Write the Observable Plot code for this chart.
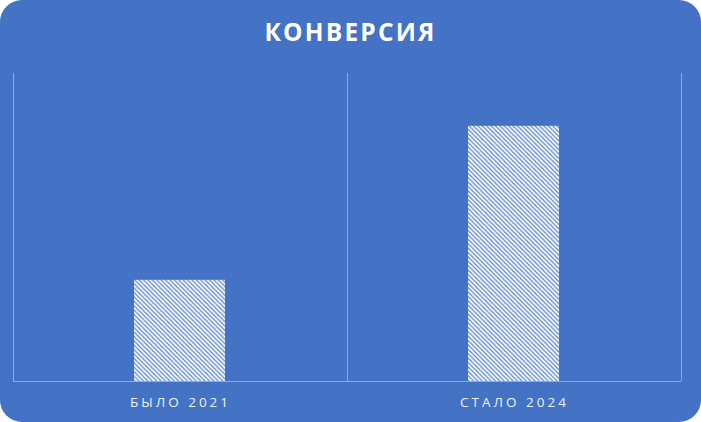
<!DOCTYPE html>
<html>
<head>
<meta charset="utf-8">
<script src="https://cdn.jsdelivr.net/npm/d3@7"></script>
<script src="https://cdn.jsdelivr.net/npm/@observablehq/plot@0.6"></script>
<style>
  html, body { margin: 0; padding: 0; background: #ffffff; }
  #card {
    position: relative;
    width: 701px; height: 422px;
    background: #4472C4;
    border-radius: 22px;
    overflow: hidden;
    font-family: "Open Sans", "Noto Sans", sans-serif;
  }
  #title {
    position: absolute; left: 0; top: 15px; width: 701px;
    text-align: center; color: #ffffff;
    font-size: 24.5px; font-weight: 700; letter-spacing: 2.2px;
  }
  #chart { position: absolute; left: 0; top: 0; }
</style>
</head>
<body>
<div id="card">
  <div id="chart"></div>
  <div id="title">КОНВЕРСИЯ</div>
</div>
<script>
const categories = ["БЫЛО 2021", "СТАЛО 2024"];
const values = [1.15, 2.9];
const yMax = 3.5;

const data = categories.map((c, i) => ({category: c, value: values[i]}));

const W = 701, H = 422;
const mL = 13, mR = 20, mT = 73, mB = 41;
const band = (W - mL - mR) / categories.length;

const plot = Plot.plot({
  width: W,
  height: H,
  marginLeft: mL,
  marginRight: mR,
  marginTop: mT,
  marginBottom: mB,
  style: {background: "transparent", overflow: "visible"},
  x: {domain: categories, padding: 0, label: null, tickSize: 0},
  y: {domain: [0, yMax], axis: null},
  marks: [
    Plot.ruleX(categories, {x: d => d, y1: 0, y2: yMax, dx: -band / 2, stroke: "#8FAADC", strokeWidth: 1}),
    Plot.ruleX([categories[categories.length - 1]], {x: d => d, y1: 0, y2: yMax, dx: band / 2, stroke: "#8FAADC", strokeWidth: 1}),
    Plot.barY(data, {x: "category", y: "value", fill: "url(#hatch)", insetLeft: 121, insetRight: 122}),
    Plot.ruleY([0], {stroke: "#8FAADC", strokeWidth: 1}),
    Plot.axisX({tickSize: 0, tickPadding: 16, fill: "#EEF2F9", fontSize: 13.5, label: null,
      fontFamily: "Open Sans, Noto Sans, sans-serif"})
  ]
});

const ns = "http://www.w3.org/2000/svg";
const defs = document.createElementNS(ns, "defs");
const p = 4.4;
defs.innerHTML = `
  <pattern id="hatch" patternUnits="userSpaceOnUse" width="${p}" height="${p}">
    <rect width="${p}" height="${p}" fill="#ffffff"></rect>
    <path d="M-1,-1 L${p + 1},${p + 1} M-1,${p - 1} L1,${p + 1} M${p - 1},-1 L${p + 1},1" stroke="#6189CF" stroke-width="1.4"></path>
  </pattern>`;
plot.insertBefore(defs, plot.firstChild);
plot.querySelectorAll("[aria-label='x-axis tick label'] text").forEach(t => {
  t.setAttribute("letter-spacing", "3px");
});
document.getElementById("chart").appendChild(plot);
</script>
</body>
</html>
